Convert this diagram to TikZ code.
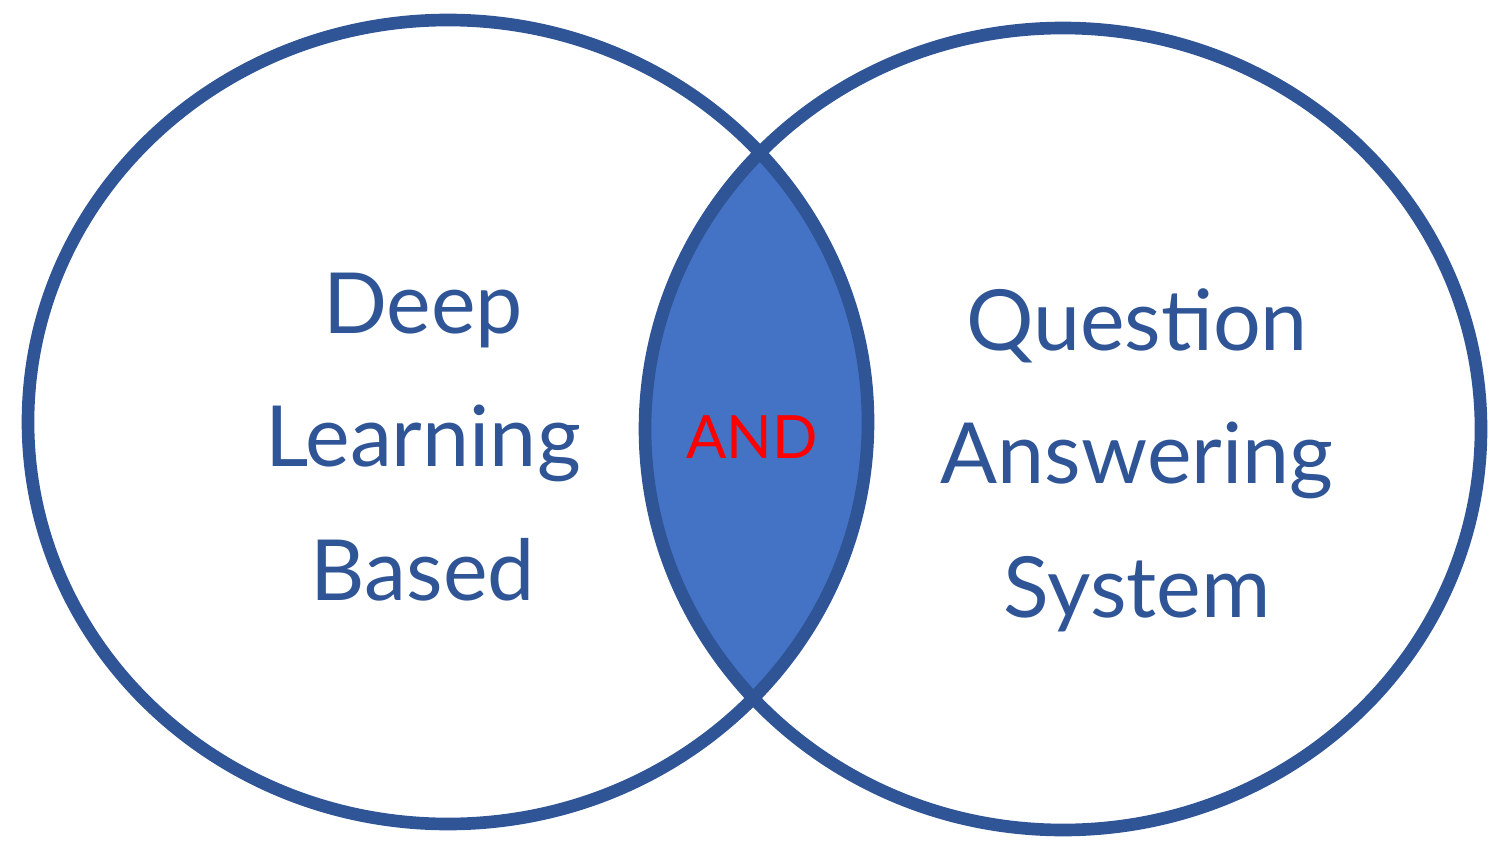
\documentclass[tikz,border=0pt]{standalone}
\usepackage{fontspec}
\setmainfont{Lato}
\definecolor{ringblue}{HTML}{2F5597}
\definecolor{lensblue}{HTML}{4472C4}
\tikzset{
  ring/.style={draw=ringblue,line width=3.6pt},
  label/.style={text=ringblue,font=\fontsize{24}{38}\selectfont,align=center}
}
\begin{document}
\begin{tikzpicture}
\useasboundingbox (0,0) rectangle (15.11,8.57);
% shaded overlap
\begin{scope}
  \clip (4.48,4.35) ellipse (4.2cm and 4.02cm);
  \fill[lensblue] (10.63,4.28) ellipse (4.18cm and 4.01cm);
\end{scope}
\draw[ring] (4.48,4.35) ellipse (4.2cm and 4.02cm);
\draw[ring] (10.63,4.28) ellipse (4.18cm and 4.01cm);
\node[label] (dl) at (4.23,4.2) {Deep\\Learning\\Based};
\node[label] (qa) at (11.37,3.97) {Question\\Answering\\System};
\node[text=red,font=\fontsize{17}{22}\selectfont] (and) at (7.52,4.2) {AND};
\end{tikzpicture}
\end{document}
